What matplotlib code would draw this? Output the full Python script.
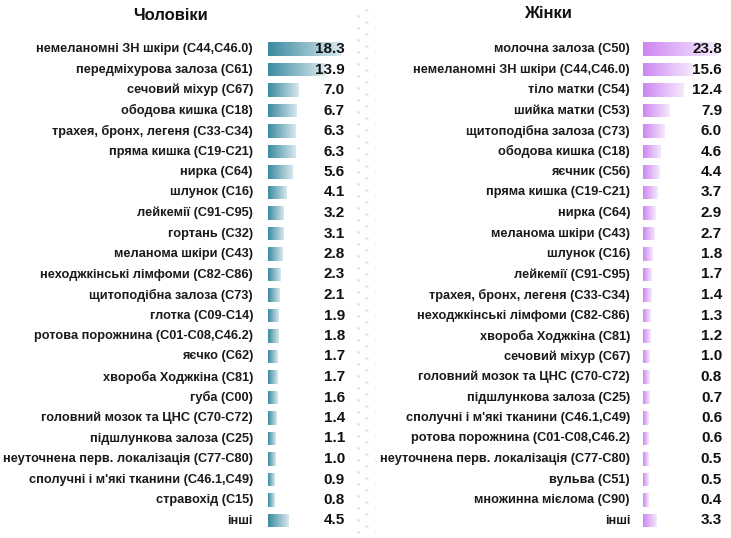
import numpy as np
import matplotlib
matplotlib.use("Agg")
import matplotlib.pyplot as plt
from matplotlib.colors import LinearSegmentedColormap

plt.rcParams['font.family'] = ['Liberation Sans', 'DejaVu Sans']

men_labels = [
    'немеланомні ЗН шкіри (C44,C46.0)', 'передміхурова залоза (C61)', 'сечовий міхур (C67)',
    'ободова кишка (C18)', 'трахея, бронх, легеня (C33-C34)', 'пряма кишка (C19-C21)',
    'нирка (C64)', 'шлунок (C16)', 'лейкемії (C91-C95)', 'гортань (C32)',
    'меланома шкіри (C43)', 'неходжкінські лімфоми (C82-C86)', 'щитоподібна залоза (C73)',
    'глотка (C09-C14)', 'ротова порожнина (C01-C08,C46.2)', 'яєчко (C62)',
    'хвороба Ходжкіна (C81)', 'губа (C00)', 'головний мозок та ЦНС (C70-C72)',
    'підшлункова залоза (C25)', 'неуточнена перв. локалізація (C77-C80)',
    'сполучні і м\'які тканини (C46.1,C49)', 'стравохід (C15)', 'інші',
]
men_values = [18.3, 13.9, 7.0, 6.7, 6.3, 6.3, 5.6, 4.1, 3.2, 3.1, 2.8, 2.3, 2.1, 1.9,
              1.8, 1.7, 1.7, 1.6, 1.4, 1.1, 1.0, 0.9, 0.8, 4.5]

women_labels = [
    'молочна залоза (C50)', 'немеланомні ЗН шкіри (C44,C46.0)', 'тіло матки (C54)',
    'шийка матки (C53)', 'щитоподібна залоза (C73)', 'ободова кишка (C18)', 'яєчник (C56)',
    'пряма кишка (C19-C21)', 'нирка (C64)', 'меланома шкіри (C43)', 'шлунок (C16)',
    'лейкемії (C91-C95)', 'трахея, бронх, легеня (C33-C34)', 'неходжкінські лімфоми (C82-C86)',
    'хвороба Ходжкіна (C81)', 'сечовий міхур (C67)', 'головний мозок та ЦНС (C70-C72)',
    'підшлункова залоза (C25)', 'сполучні і м\'які тканини (C46.1,C49)',
    'ротова порожнина (C01-C08,C46.2)', 'неуточнена перв. локалізація (C77-C80)',
    'вульва (C51)', 'множинна мієлома (C90)', 'інші',
]
women_values = [23.8, 15.6, 12.4, 7.9, 6.0, 4.6, 4.4, 3.7, 2.9, 2.7, 1.8, 1.7, 1.4, 1.3,
                1.2, 1.0, 0.8, 0.7, 0.6, 0.6, 0.5, 0.5, 0.4, 3.3]

W, H = 731, 538
fig = plt.figure(figsize=(W / 100, H / 100), dpi=100)

# faint dotted strip between the panels
bg = fig.add_axes([0, 0, 1, 1], zorder=-1)
bg.set_xlim(0, W)
bg.set_ylim(H, 0)
bg.axis('off')
dy = np.arange(10, 535, 12)
bg.scatter(np.full(dy.size, 366), dy, s=4, color='#e2e2e2', lw=0)
bg.scatter(np.full(dy.size, 358), dy + 6, s=4, color='#e2e2e2', lw=0)
bg.scatter(np.full(dy.size, 375), dy + 6, s=3, color='#e8e8e8', lw=0.6, marker='|')

grad = np.linspace(0, 1, 256).reshape(1, -1)


def panel(x0, x1, scale, base, labels, values, c0, c1, title, title_x, title_y, lab_off):
    top, bottom = 38.75, 530.75
    ax = fig.add_axes([x0 / W, 1 - bottom / H, (x1 - x0) / W, (bottom - top) / H])
    n = len(values)
    y = np.arange(n)
    cmap = LinearSegmentedColormap.from_list('g', [c0, c1])
    # bars keep a small stub of `base` data units to the left of zero
    bars = ax.barh(y, np.asarray(values) + base, left=-base, height=0.68,
                   color='none', lw=0)
    for b in bars:
        bx, by, bw, bh = b.get_x(), b.get_y(), b.get_width(), b.get_height()
        im = ax.imshow(grad, extent=[bx, bx + bw, by + bh, by], aspect='auto',
                       cmap=cmap, interpolation='bilinear')
        im.set_clip_path(b)
    ax.set_xlim(-base, (x1 - x0) / scale - base)
    ax.set_ylim(n - 0.5, -0.5)
    ax.axis('off')
    tr = ax.get_yaxis_transform()
    for i, (lab, v) in enumerate(zip(labels, values)):
        ax.text(-lab_off / (x1 - x0), i, lab, transform=tr, ha='right', va='center',
                fontsize=9.2, fontweight='bold', color='#1a1a1a')
        ax.text(1.0, i, f'{v:.1f}', transform=tr, ha='right', va='center',
                fontsize=11, fontweight='bold', color='#111111')
    fig.text(title_x / W, 1 - title_y / H, title, ha='center', va='center',
             fontsize=12, fontweight='bold', color='#111111')


panel(268, 345, 3.8, 0.9, men_labels, men_values, '#3a8aa0', '#d8e8ee',
      'Чоловіки', 170, 16, 15)
panel(643, 722, 2.9, 1.4, women_labels, women_values, '#cd86f2', '#f6eafc',
      'Жінки', 548, 14, 13)

fig.savefig('out.png', dpi=100)
